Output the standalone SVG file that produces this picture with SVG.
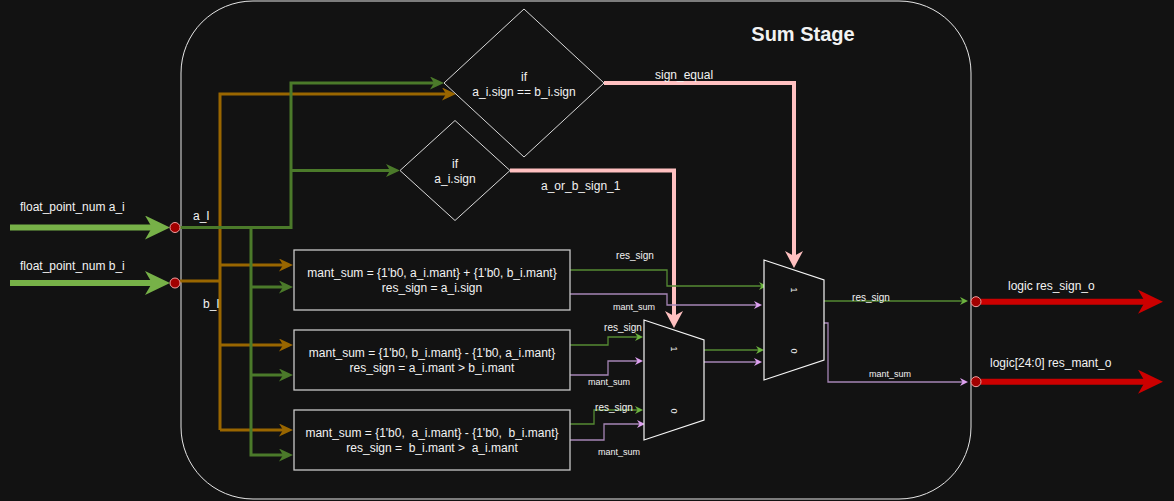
<svg xmlns="http://www.w3.org/2000/svg" width="1174" height="501" viewBox="0 0 1174 501">
<style>
text{font-family:"Liberation Sans",Arial,sans-serif;fill:#f2f2f2;font-size:12px}
.c{text-anchor:middle}
.s10{font-size:10px}
.s9{font-size:9px}
.wg{fill:none;stroke:#4b7a2a;stroke-width:3}
.wo{fill:none;stroke:#996600;stroke-width:3}
.wp{fill:none;stroke:#ffc0c0;stroke-width:4}
.tg{fill:none;stroke:#558a33;stroke-width:1.3}
.tp{fill:none;stroke:#a585b5;stroke-width:1.3}
.box{fill:#121212;stroke:#c8c8c8;stroke-width:1.3}
.dia{fill:#121212;stroke:#d9d9d9;stroke-width:1}
.mux{fill:#121212;stroke:#f5f5f5;stroke-width:1.2}
.port{fill:#a20000;stroke:#f0a0a0;stroke-width:1}
</style>
<defs>
<marker id="mBigG" markerUnits="userSpaceOnUse" viewBox="0 0 25 24" markerWidth="25" markerHeight="24" refX="10" refY="12" orient="auto"><path d="M0,0 L25,12 L0,24 L7,12 Z" fill="#77b148"/></marker>
<marker id="mBigR" markerUnits="userSpaceOnUse" viewBox="0 0 25 24" markerWidth="25" markerHeight="24" refX="10" refY="12" orient="auto"><path d="M0,0 L25,12 L0,24 L7,12 Z" fill="#cc0000"/></marker>
<marker id="mG" markerUnits="userSpaceOnUse" viewBox="0 0 14 13" markerWidth="14" markerHeight="13" refX="6" refY="6.5" orient="auto"><path d="M0,0 L14,6.5 L0,13 L4,6.5 Z" fill="#4b7a2a"/></marker>
<marker id="mO" markerUnits="userSpaceOnUse" viewBox="0 0 14 13" markerWidth="14" markerHeight="13" refX="6" refY="6.5" orient="auto"><path d="M0,0 L14,6.5 L0,13 L4,6.5 Z" fill="#996600"/></marker>
<marker id="mP" markerUnits="userSpaceOnUse" viewBox="0 0 17 18" markerWidth="17" markerHeight="18" refX="7" refY="9" orient="auto"><path d="M0,0 L17,9 L0,18 L5,9 Z" fill="#ffc0c0"/></marker>
<marker id="mSG" markerUnits="userSpaceOnUse" viewBox="0 0 8 8" markerWidth="8" markerHeight="8" refX="4" refY="4" orient="auto"><path d="M0,0 L8,4 L0,8 L2.5,4 Z" fill="#6cb33f"/></marker>
<marker id="mSP" markerUnits="userSpaceOnUse" viewBox="0 0 8 8" markerWidth="8" markerHeight="8" refX="4" refY="4" orient="auto"><path d="M0,0 L8,4 L0,8 L2.5,4 Z" fill="#dda0f0"/></marker>
</defs>
<rect x="0" y="0" width="1174" height="501" fill="#121212"/>
<g id="sum-stage">
<rect x="181" y="1" width="790" height="498" rx="72" ry="72" fill="none" stroke="#e6e6e6" stroke-width="1"/>
<text x="803" y="41" class="c" style="font-size:20px;font-weight:bold">Sum Stage</text>
</g>
<g id="connectors">
<path d="M10,227.5 H155" fill="none" stroke="#77b148" stroke-width="6" marker-end="url(#mBigG)"/>
<path d="M10,283 H155" fill="none" stroke="#77b148" stroke-width="6" marker-end="url(#mBigG)"/>
<path class="wo" d="M180,281 H220"/>
<path class="wo" d="M220,430 V94 H448" marker-end="url(#mO)"/>
<path class="wo" d="M220,265 H285" marker-end="url(#mO)"/>
<path class="wo" d="M220,345 H285" marker-end="url(#mO)"/>
<path class="wo" d="M220,430 H285" marker-end="url(#mO)"/>
<path class="wg" d="M180,227.5 H291 V83 H436" marker-end="url(#mG)"/>
<path class="wg" d="M291,170.5 H392" marker-end="url(#mG)"/>
<path class="wg" d="M251,227.5 V455 H285" marker-end="url(#mG)"/>
<path class="wg" d="M251,287 H285" marker-end="url(#mG)"/>
<path class="wg" d="M251,375 H285" marker-end="url(#mG)"/>
<path class="wp" d="M604,83 H794 V258" marker-end="url(#mP)"/>
<path class="wp" d="M510,170.5 H674 V318" marker-end="url(#mP)"/>
<path class="tg" d="M570,270 H667 V286 H763" marker-end="url(#mSG)"/>
<path class="tp" d="M570,294 H667 V305 H758" marker-end="url(#mSP)"/>
<path class="tg" d="M570,345 H608 V337 H639" marker-end="url(#mSG)"/>
<path class="tp" d="M570,375 H608 V361 H639" marker-end="url(#mSP)"/>
<path class="tg" d="M570,424 H594 V410 H639" marker-end="url(#mSG)"/>
<path class="tp" d="M570,440 H604 V424 H641" marker-end="url(#mSP)"/>
<path class="tg" d="M704,350 H760" marker-end="url(#mSG)"/>
<path class="tp" d="M704,362 H758" marker-end="url(#mSP)"/>
<path class="tg" d="M824,301 H964" marker-end="url(#mSG)"/>
<path class="tp" d="M824,323 H828 V382 H964" marker-end="url(#mSP)"/>
<path d="M981,301.7 H1148" fill="none" stroke="#cc0000" stroke-width="6" marker-end="url(#mBigR)"/>
<path d="M981,381.7 H1148" fill="none" stroke="#cc0000" stroke-width="6" marker-end="url(#mBigR)"/>
<text x="193" y="220">a_I</text>
<text x="203" y="308">b_I</text>
<text x="655" y="79">sign_equal</text>
<text x="541" y="190">a_or_b_sign_1</text>
<text x="635" y="259" class="c s10">res_sign</text>
<text x="634" y="310" class="c s9">mant_sum</text>
<text x="623" y="331" class="c s10">res_sign</text>
<text x="609" y="385" class="c s9">mant_sum</text>
<text x="614" y="411" class="c s10">res_sign</text>
<text x="619" y="455" class="c s9">mant_sum</text>
<text x="871" y="301" class="c s10">res_sign</text>
<text x="890" y="377" class="c s9">mant_sum</text>
</g>
<g id="in-a">
<text x="20" y="211">float_point_num a_i</text>
<circle class="port" cx="175" cy="227.5" r="5"/>
</g>
<g id="in-b">
<text x="20" y="270">float_point_num b_i</text>
<circle class="port" cx="175" cy="283" r="5"/>
</g>
<g id="cmp-sign-equal">
<polygon class="dia" points="524,9 604,83 524,157 444,83"/>
<text x="524" y="81" class="c">if</text>
<text x="524" y="96" class="c">a_i.sign == b_i.sign</text>
</g>
<g id="cmp-a-sign">
<polygon class="dia" points="455,120.5 510,170.5 455,220.5 400,170.5"/>
<text x="455" y="168" class="c">if</text>
<text x="455" y="183" class="c">a_i.sign</text>
</g>
<g id="add-box">
<rect class="box" x="294" y="250" width="276" height="60"/>
<text x="432" y="277" class="c">mant_sum = {1'b0, a_i.mant} + {1'b0, b_i.mant}</text>
<text x="432" y="292" class="c">res_sign = a_i.sign</text>
</g>
<g id="sub-ba-box">
<rect class="box" x="294" y="330" width="276" height="60"/>
<text x="432" y="357" class="c">mant_sum = {1'b0, b_i.mant} - {1'b0, a_i.mant}</text>
<text x="432" y="372" class="c">res_sign = a_i.mant &gt; b_i.mant</text>
</g>
<g id="sub-ab-box">
<rect class="box" x="294" y="410" width="276" height="60"/>
<text x="432" y="437" class="c" xml:space="preserve">mant_sum = {1'b0,  a_i.mant} - {1'b0,  b_i.mant}</text>
<text x="432" y="452" class="c" xml:space="preserve">res_sign =  b_i.mant &gt;  a_i.mant</text>
</g>
<g id="mux-1">
<polygon class="mux" points="644,320 704,340 704,420 644,440"/>
<text x="674" y="349" class="c s9" dominant-baseline="central" transform="rotate(90 674 349)">1</text>
<text x="674" y="411" class="c s9" dominant-baseline="central" transform="rotate(90 674 411)">0</text>
</g>
<g id="mux-2">
<polygon class="mux" points="764,260 824,280 824,360 764,380"/>
<text x="794" y="290" class="c s9" dominant-baseline="central" transform="rotate(90 794 290)">1</text>
<text x="794" y="351" class="c s9" dominant-baseline="central" transform="rotate(90 794 351)">0</text>
</g>
<g id="out-sign">
<circle class="port" cx="976" cy="301.7" r="5"/>
<text x="1008" y="290">logic res_sign_o</text>
</g>
<g id="out-mant">
<circle class="port" cx="976" cy="381.7" r="5"/>
<text x="990" y="367">logic[24:0] res_mant_o</text>
</g>
</svg>
